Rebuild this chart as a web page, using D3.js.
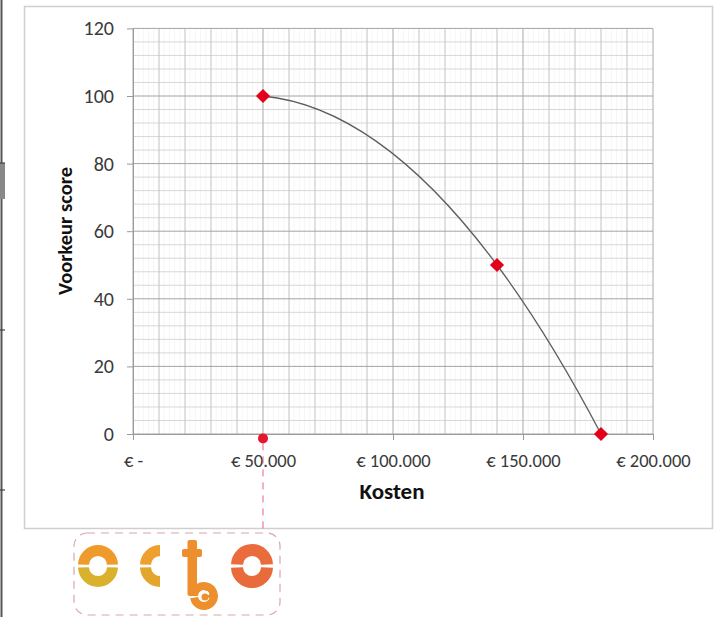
<!DOCTYPE html>
<html>
<head>
<meta charset="utf-8">
<script src="https://cdn.jsdelivr.net/npm/d3@7/dist/d3.min.js"></script>
<style>
  html, body { margin: 0; padding: 0; background: #fff; }
  svg { display: block; }
  text { font-family: Carlito, Lato, "Open Sans", sans-serif; }
</style>
</head>
<body>
<svg id="chart" width="718" height="617"></svg>
<script>
// Cost (€) against preference score
const costs = [50000, 140000, 180000];
const scores = [100, 50, 0];
const xTicks = [0, 50000, 100000, 150000, 200000];
const yTicks = [0, 20, 40, 60, 80, 100, 120];
// reference marker on the cost axis
const markerCost = [50000];
const markerScore = [-1.3];

const svg = d3.select("#chart");
const W = 718, H = 617;

const x = d3.scaleLinear().domain([0, 200000]).range([133, 653]);
const y = d3.scaleLinear().domain([0, 120]).range([434, 28.4]);

// page edge line on the left
svg.append("line").attr("x1", 1.5).attr("x2", 1.5).attr("y1", 0).attr("y2", H)
  .attr("stroke", "#555").attr("stroke-width", 2);
svg.append("rect").attr("x", 0).attr("y", 163).attr("width", 5).attr("height", 36).attr("fill", "#888");
[163, 330, 490].forEach(v => svg.append("line").attr("x1", 0).attr("x2", 5)
  .attr("y1", v).attr("y2", v).attr("stroke", "#444").attr("stroke-width", 1.2));

// chart frame
svg.append("rect").attr("x", 24.5).attr("y", 6.5).attr("width", 688).attr("height", 522)
  .attr("fill", "#fff").attr("stroke", "#cfcfcf").attr("stroke-width", 1.5);

const grid = svg.append("g");
// faint minor verticals
d3.range(0, 200001, 2000).forEach(v => {
  if (v % 10000 === 0) return;
  grid.append("line").attr("x1", x(v)).attr("x2", x(v)).attr("y1", y(120)).attr("y2", y(0))
    .attr("stroke", "#f6f6f6").attr("stroke-width", 1);
});
// horizontal minor lines every 4
d3.range(0, 121, 4).forEach(v => {
  if (v % 20 === 0) return;
  grid.append("line").attr("x1", x(0)).attr("x2", x(200000)).attr("y1", y(v)).attr("y2", y(v))
    .attr("stroke", "#d8d8d8").attr("stroke-width", 1);
});
// verticals every 10k
d3.range(0, 200001, 10000).forEach(v => {
  grid.append("line").attr("x1", x(v)).attr("x2", x(v)).attr("y1", y(120)).attr("y2", y(0))
    .attr("stroke", v % 50000 === 0 ? "#a9a9a9" : "#c2c2c2").attr("stroke-width", 1);
});
// major horizontals every 20
yTicks.forEach(v => {
  grid.append("line").attr("x1", x(0)).attr("x2", x(200000)).attr("y1", y(v)).attr("y2", y(v))
    .attr("stroke", "#a4a4a4").attr("stroke-width", 1);
});

// axes
const fmtEuro = v => v === 0 ? "€ -" : "€ " + d3.format(",")(v).replace(/,/g, ".");
const gx = svg.append("g").attr("transform", `translate(0,${y(0)})`)
  .call(d3.axisBottom(x).tickValues(xTicks).tickFormat(fmtEuro).tickSize(6).tickSizeOuter(0));
gx.select(".domain").attr("stroke", "#9a9a9a");
gx.selectAll(".tick line").attr("stroke", "#9a9a9a");
gx.selectAll(".tick text").attr("y", 20).attr("fill", "#3a3a3a")
  .style("font-size", "18.5px");

const gy = svg.append("g").attr("transform", `translate(${x(0)},0)`)
  .call(d3.axisLeft(y).tickValues(yTicks).tickSize(6).tickPadding(13).tickSizeOuter(0));
gy.select(".domain").attr("stroke", "#9a9a9a");
gy.selectAll(".tick line").attr("stroke", "#9a9a9a");
gy.selectAll(".tick text").attr("fill", "#3a3a3a").style("font-size", "20px");

// axis titles
svg.append("text").attr("x", 392).attr("y", 499).attr("text-anchor", "middle")
  .style("font-size", "23px").style("font-weight", "bold").attr("fill", "#111").text("Kosten");
svg.append("text").attr("transform", "translate(72,231) rotate(-90)").attr("text-anchor", "middle")
  .style("font-size", "20.5px").style("font-weight", "bold").attr("fill", "#111").text("Voorkeur score");

// Smooth curve: cubic Hermite segments with tangents taken from the
// parabola through each point and its neighbours
function curveQuadTangent(context) {
  let pts = [];
  return {
    areaStart() {}, areaEnd() {},
    lineStart() { pts = []; },
    point(px, py) { pts.push([+px, +py]); },
    lineEnd() {
      const n = pts.length;
      if (!n) return;
      const slope = (a, b) => (b[1] - a[1]) / (b[0] - a[0]);
      const tan = pts.map((p, i) => {
        if (n < 3) return n === 2 ? slope(pts[0], pts[1]) : 0;
        const i0 = Math.min(Math.max(i - 1, 0), n - 3);
        const a = pts[i0], b = pts[i0 + 1], c = pts[i0 + 2];
        const sab = slope(a, b), sbc = slope(b, c);
        const mab = (a[0] + b[0]) / 2, mbc = (b[0] + c[0]) / 2;
        return sab + (sbc - sab) * (p[0] - mab) / (mbc - mab);
      });
      context.moveTo(pts[0][0], pts[0][1]);
      for (let i = 0; i < n - 1; i++) {
        const p = pts[i], q = pts[i + 1], h = (q[0] - p[0]) / 3;
        context.bezierCurveTo(p[0] + h, p[1] + h * tan[i], q[0] - h, q[1] - h * tan[i + 1], q[0], q[1]);
      }
    }
  };
}

const data = costs.map((c, i) => ({ c, s: scores[i] }));
const line = d3.line().x(d => x(d.c)).y(d => y(d.s)).curve(curveQuadTangent);
svg.append("path").datum(data).attr("d", line)
  .attr("fill", "none").attr("stroke", "#5a5f5f").attr("stroke-width", 1.3);

svg.selectAll(".pt").data(data).join("path").attr("class", "pt")
  .attr("transform", d => `translate(${x(d.c)},${y(d.s)}) rotate(45)`)
  .attr("d", "M-5,-5H5V5H-5Z").attr("fill", "#e3001b");

// axis marker and its dashed leader to the logo
const mk = markerCost.map((c, i) => ({ c, s: markerScore[i] }));
svg.selectAll(".mk").data(mk).join("line").attr("class", "mk")
  .attr("x1", d => x(d.c)).attr("x2", d => x(d.c))
  .attr("y1", d => y(d.s) + 5).attr("y2", 531)
  .attr("stroke", "#e0405a").attr("stroke-width", 1).attr("stroke-dasharray", "7,6").attr("opacity", 0.8);
svg.selectAll(".mkc").data(mk).join("circle").attr("class", "mkc")
  .attr("cx", d => x(d.c)).attr("cy", d => y(d.s)).attr("r", 5).attr("fill", "#e3182d");

// logo box
svg.append("rect").attr("x", 74).attr("y", 533).attr("width", 206).attr("height", 82).attr("rx", 13)
  .attr("fill", "none").attr("stroke", "#d9a3b3").attr("stroke-width", 1.2).attr("stroke-dasharray", "8,6");

// "octo" logo
const logo = svg.append("g");
const ring = (cx, cy, r0, r1, a0, a1, color) => logo.append("path")
  .attr("transform", `translate(${cx},${cy})`)
  .attr("d", d3.arc().innerRadius(r0).outerRadius(r1).startAngle(a0).endAngle(a1)())
  .attr("fill", color);
const P = Math.PI;
// first o
ring(98, 565, 9, 20, -P / 2 + 0.03, P / 2 - 0.03, "#ef9a2c");
ring(98, 567, 9, 20, P / 2 + 0.03, 3 * P / 2 - 0.03, "#d9b12c");
// c
ring(160, 565, 9, 20, P + P / 2 + 0.03, 2 * P, "#eda02e");
ring(160, 567, 9, 20, P, P + P / 2 - 0.03, "#e3a52c");
// t
logo.append("rect").attr("x", 187.5).attr("y", 540).attr("width", 9.5).attr("height", 56).attr("rx", 2).attr("fill", "#ee8f2e");
logo.append("rect").attr("x", 182).attr("y", 549).attr("width", 20).attr("height", 8).attr("rx", 2).attr("fill", "#ee8f2e");
ring(204, 596, 6, 14, -P * 0.5, P * 1.45, "#ee8f2e");
ring(205, 597, 0, 3.5, 0, 2 * P, "#ee8f2e");
ring(207, 593, 2.5, 6, -P * 0.2, P * 0.9, "#ee8f2e");
// last o
ring(252, 565, 9, 21, -P / 2 + 0.03, P / 2 - 0.03, "#ea6c3c");
ring(252, 567, 9, 21, P / 2 + 0.03, 3 * P / 2 - 0.03, "#e96a3a");
</script>
</body>
</html>
